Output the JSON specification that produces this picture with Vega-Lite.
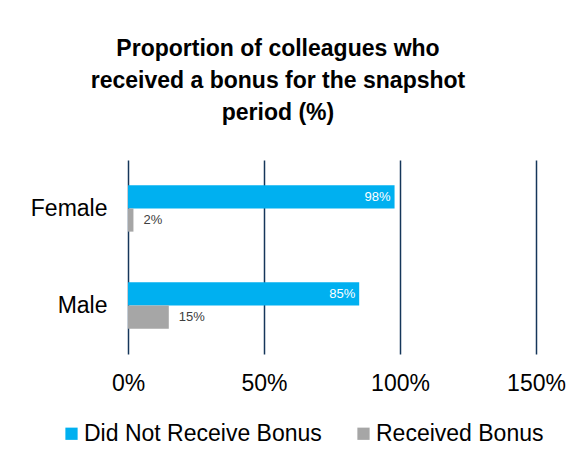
{
  "$schema": "https://vega.github.io/schema/vega-lite/v6.json",
  "autosize": "none",
  "width": 408,
  "height": 194,
  "padding": {"left": 128, "top": 160, "right": 49, "bottom": 107},
  "background": "white",
  "config": {
    "font": "Liberation Sans",
    "view": {"stroke": null}
  },
  "title": {
    "text": ["Proportion of colleagues who", "received a bonus for the snapshot", "period (%)"],
    "fontSize": 23,
    "fontWeight": "bold",
    "font": "Liberation Sans",
    "color": "#000000",
    "anchor": "middle",
    "lineHeight": 32,
    "dx": -54,
    "offset": 35
  },
  "data": {
    "values": [
      {"gender": "Female", "type": "Did Not Receive Bonus", "value": 0.98},
      {"gender": "Female", "type": "Received Bonus", "value": 0.02},
      {"gender": "Male", "type": "Did Not Receive Bonus", "value": 0.85},
      {"gender": "Male", "type": "Received Bonus", "value": 0.15}
    ]
  },
  "encoding": {
    "y": {
      "field": "gender",
      "type": "nominal",
      "sort": ["Female", "Male"],
      "scale": {"paddingInner": 0.523, "paddingOuter": 0.2615},
      "axis": {
        "title": null,
        "domain": false,
        "ticks": false,
        "labelFontSize": 23,
        "labelColor": "#000000",
        "labelPadding": 21
      }
    },
    "yOffset": {
      "field": "type",
      "type": "nominal",
      "sort": ["Did Not Receive Bonus", "Received Bonus"]
    },
    "x": {
      "field": "value",
      "type": "quantitative",
      "scale": {"domain": [0, 1.5], "nice": false},
      "axis": {
        "title": null,
        "format": "%",
        "values": [0, 0.5, 1, 1.5],
        "domain": false,
        "ticks": false,
        "grid": true,
        "gridColor": "#15365A",
        "gridWidth": 1.5,
        "gridOpacity": 1,
        "labelFlush": false,
        "labelFontSize": 23,
        "labelColor": "#000000",
        "labelPadding": 18
      }
    }
  },
  "layer": [
    {
      "mark": {"type": "bar"},
      "encoding": {
        "color": {
          "field": "type",
          "type": "nominal",
          "scale": {"domain": ["Did Not Receive Bonus", "Received Bonus"], "range": ["#00B0F0", "#A6A6A6"]},
          "legend": {
            "title": null,
            "orient": "none",
            "legendX": -68,
            "legendY": 262,
            "direction": "horizontal",
            "symbolType": "square",
            "symbolSize": 150,
            "symbolStrokeWidth": 0,
            "symbolOpacity": 1,
            "labelFontSize": 23,
            "labelColor": "#000000",
            "labelLimit": 0,
            "labelOffset": 1,
            "columnPadding": 30
          }
        }
      }
    },
    {
      "transform": [{"filter": "datum.type === 'Did Not Receive Bonus'"}],
      "mark": {"type": "text", "align": "right", "baseline": "middle", "dx": -4, "fontSize": 13, "color": "#FFFFFF"},
      "encoding": {"text": {"field": "value", "type": "quantitative", "format": ".0%"}}
    },
    {
      "transform": [{"filter": "datum.type === 'Received Bonus'"}],
      "mark": {"type": "text", "align": "left", "baseline": "middle", "dx": 10, "fontSize": 13, "color": "#404040"},
      "encoding": {"text": {"field": "value", "type": "quantitative", "format": ".0%"}}
    }
  ]
}
